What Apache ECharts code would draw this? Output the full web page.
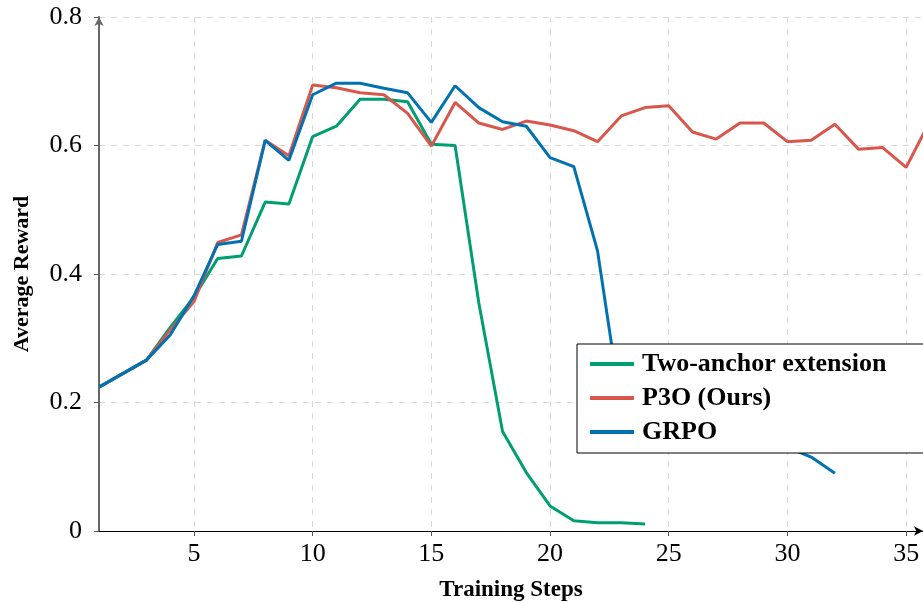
<!DOCTYPE html>
<html>
<head>
<meta charset="utf-8">
<script src="https://cdn.jsdelivr.net/npm/echarts@6/dist/echarts.min.js"></script>
<style>
  html, body { margin: 0; padding: 0; background: #fff; }
  #chart { width: 923px; height: 603px; }
</style>
</head>
<body>
<div id="chart"></div>
<script>
// Training steps (x) and average reward per method
const steps = [1, 2, 3, 4, 5, 6, 7, 8, 9, 10, 11, 12, 13, 14, 15, 16, 17, 18,
  19, 20, 21, 22, 23, 24, 25, 26, 27, 28, 29, 30, 31, 32, 33, 34, 35, 36];

const twoAnchor = [0.224, 0.245, 0.266, 0.317, 0.364, 0.424, 0.428, 0.512, 0.509,
  0.614, 0.630, 0.672, 0.672, 0.668, 0.602, 0.600, 0.355, 0.155, 0.091, 0.039,
  0.016, 0.013, 0.013, 0.011];

const p3o = [0.224, 0.245, 0.266, 0.313, 0.357, 0.449, 0.461, 0.608, 0.584,
  0.694, 0.690, 0.682, 0.679, 0.650, 0.599, 0.667, 0.635, 0.625, 0.638, 0.632,
  0.623, 0.606, 0.646, 0.659, 0.662, 0.621, 0.610, 0.635, 0.635, 0.606, 0.608,
  0.633, 0.594, 0.597, 0.566, 0.638];

const grpo = [0.224, 0.245, 0.266, 0.305, 0.366, 0.446, 0.451, 0.608, 0.577,
  0.679, 0.697, 0.697, 0.689, 0.682, 0.636, 0.693, 0.659, 0.637, 0.630, 0.581,
  0.567, 0.436, 0.190, 0.180, 0.170, 0.160, 0.155, 0.150, 0.140, 0.130, 0.115,
  0.090];

const seriesNames = ['Two-anchor extension', 'P3O (Ours)', 'GRPO'];
const seriesColors = ['#009e73', '#d9564c', '#0072b2'];
const xTicks = [5, 10, 15, 20, 25, 30, 35];

const pairs = vals => vals.map((v, i) => [steps[i], v]);

const serif = '"Liberation Serif", "Times New Roman", serif';
const gridDash = { color: '#d9d9d9', width: 1, type: [6, 6] };

const chart = echarts.init(document.getElementById('chart'), null, { renderer: 'canvas' });

chart.setOption({
  animation: false,
  backgroundColor: '#ffffff',
  grid: { left: 99, right: 0, top: 17, bottom: 72, containLabel: false, outerBoundsMode: 'none' },
  xAxis: {
    type: 'value',
    min: 1,
    max: 35.71,
    name: 'Training Steps',
    nameLocation: 'middle',
    nameGap: 48,
    nameTextStyle: { fontFamily: serif, fontWeight: 'bold', fontSize: 23, color: '#000' },
    axisLine: { show: true, lineStyle: { color: '#000', width: 1 }, symbol: ['none', 'arrow'], symbolSize: [7, 9] },
    axisTick: { show: true, length: 5, customValues: xTicks, lineStyle: { color: '#555' } },
    axisLabel: { customValues: xTicks, fontFamily: serif, fontSize: 26, color: '#000', margin: 10 },
    splitLine: { show: true, lineStyle: gridDash }
  },
  yAxis: {
    type: 'value',
    min: 0,
    max: 0.8,
    interval: 0.2,
    name: 'Average Reward',
    nameLocation: 'middle',
    nameGap: 66,
    nameRotate: 90,
    nameTextStyle: { fontFamily: serif, fontWeight: 'bold', fontSize: 22, color: '#000' },
    axisLine: { show: true, onZero: false, lineStyle: { color: '#666', width: 2 }, symbol: ['none', 'arrow'], symbolSize: [7, 9] },
    axisTick: { show: true, length: 5, lineStyle: { color: '#555' } },
    axisLabel: { fontFamily: serif, fontSize: 26, color: '#000', margin: 17,
      formatter: v => (v === 0 ? '0' : v.toFixed(1)) },
    splitLine: { show: true, lineStyle: gridDash }
  },
  legend: {
    data: seriesNames,
    orient: 'vertical',
    left: 577,
    top: 344,
    icon: 'rect',
    itemWidth: 44,
    itemHeight: 4,
    itemGap: 8,
    padding: [7, 60, 8, 13],
    backgroundColor: '#ffffff',
    borderColor: '#000',
    borderWidth: 1,
    borderRadius: 0,
    textStyle: { fontFamily: serif, fontWeight: 'bold', fontSize: 26, color: '#000', padding: [0, 0, 0, 3] }
  },
  series: [
    { name: seriesNames[0], type: 'line', data: pairs(twoAnchor), showSymbol: false,
      lineStyle: { width: 3, color: seriesColors[0] }, itemStyle: { color: seriesColors[0] } },
    { name: seriesNames[1], type: 'line', data: pairs(p3o), showSymbol: false,
      lineStyle: { width: 3, color: seriesColors[1] }, itemStyle: { color: seriesColors[1] } },
    { name: seriesNames[2], type: 'line', data: pairs(grpo), showSymbol: false,
      lineStyle: { width: 3, color: seriesColors[2] }, itemStyle: { color: seriesColors[2] } }
  ]
});
</script>
</body>
</html>
